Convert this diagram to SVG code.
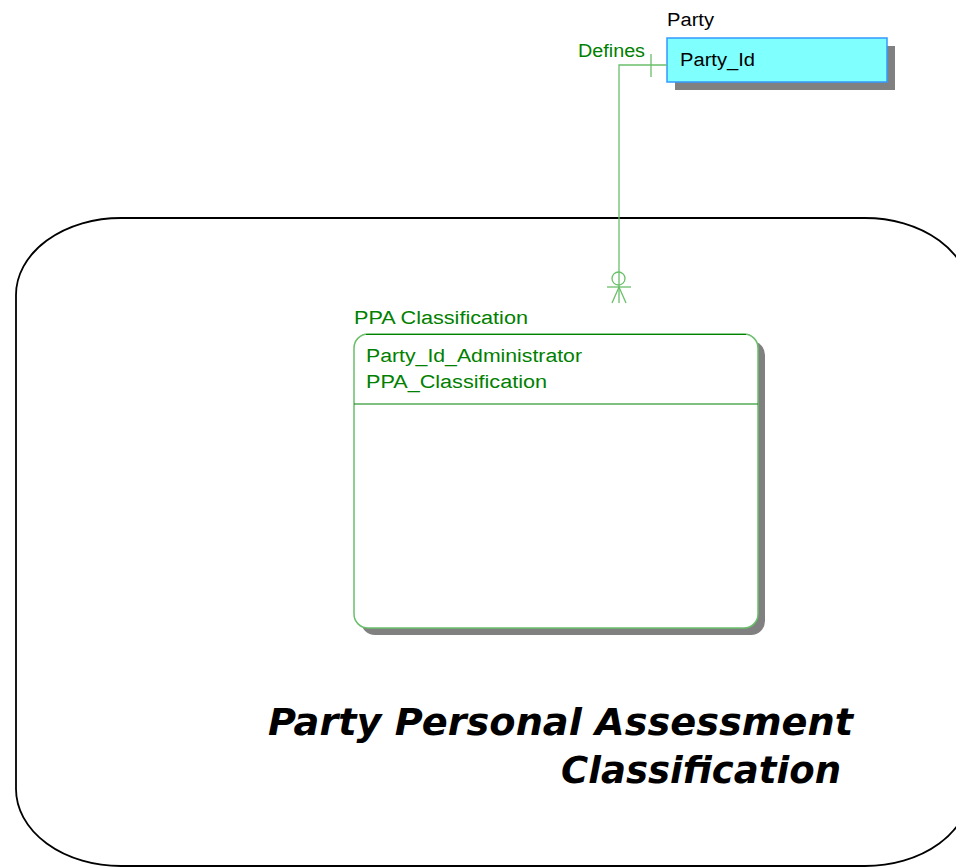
<svg xmlns="http://www.w3.org/2000/svg" width="956" height="867" viewBox="0 0 956 867">
<style>
.lbl{font-family:"Liberation Sans",Arial,sans-serif;font-size:18px}
.grn{fill:#008000}
.blk{fill:#000}
.conn{stroke:#6abf6a;stroke-width:1.3;fill:none}
.title{font-family:"DejaVu Sans",Verdana,sans-serif;font-weight:bold;font-style:italic;font-size:38px;fill:#000}
</style>
<rect width="956" height="867" fill="#fff"/>
<g id="area">
<rect x="16" y="218" width="954" height="648" rx="105" ry="77" fill="none" stroke="#000" stroke-width="1.8"/>
<text class="title" x="268" y="735" textLength="585" lengthAdjust="spacingAndGlyphs">Party Personal Assessment</text>
<text class="title" x="561" y="783" textLength="280" lengthAdjust="spacingAndGlyphs">Classification</text>
</g>
<g id="party">
<rect x="675" y="46" width="220" height="44" fill="#808080"/>
<rect x="667" y="38" width="220" height="44" fill="#80ffff" stroke="#3399ff" stroke-width="1.5"/>
<text class="lbl blk" x="667" y="26" textLength="47" lengthAdjust="spacingAndGlyphs">Party</text>
<text class="lbl blk" x="680" y="66" textLength="75" lengthAdjust="spacingAndGlyphs">Party_Id</text>
</g>
<g id="ppa">
<rect x="361" y="341" width="404" height="294" rx="14" fill="#808080"/>
<rect x="354" y="334" width="404" height="294" rx="14" fill="#fff" stroke="#6abf6a" stroke-width="1.5"/>
<path d="M 366 334.5 H 746" stroke="#008000" stroke-width="1.2" fill="none"/>
<line x1="354" y1="404" x2="758" y2="404" stroke="#008000" stroke-width="1"/>
<text class="lbl grn" x="354" y="324" textLength="174" lengthAdjust="spacingAndGlyphs">PPA Classification</text>
<text class="lbl grn" x="366" y="362" textLength="216" lengthAdjust="spacingAndGlyphs">Party_Id_Administrator</text>
<text class="lbl grn" x="366" y="388" textLength="181" lengthAdjust="spacingAndGlyphs">PPA_Classification</text>
</g>
<g id="connectors">
<path class="conn" d="M 667 65 H 619 V 303"/>
<line class="conn" x1="651" y1="54" x2="651" y2="77"/>
<circle class="conn" cx="618.5" cy="278.5" r="6.5"/>
<line class="conn" x1="607" y1="287" x2="631" y2="287"/>
<path class="conn" d="M 612 303 L 619 287 L 626 303"/>
<text class="lbl grn" x="578" y="57" textLength="67" lengthAdjust="spacingAndGlyphs">Defines</text>
</g>
</svg>
